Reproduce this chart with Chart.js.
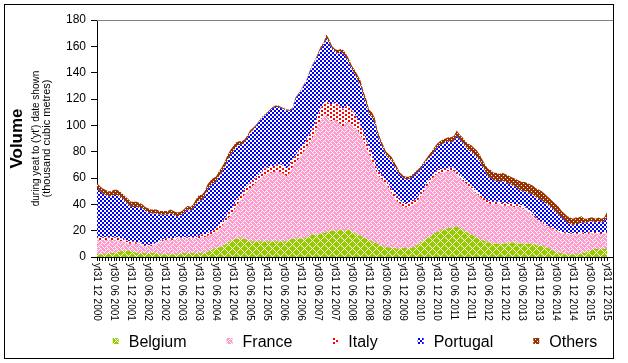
<!DOCTYPE html>
<html>
<head>
<meta charset="utf-8">
<title>Volume by country</title>
<script src="https://cdn.jsdelivr.net/npm/chart.js@4.4.1/dist/chart.umd.min.js"></script>
<style>
    html, body { margin: 0; padding: 0; background: #fff; }
    #wrap { width: 628px; height: 363px; }
</style>
</head>
<body>
<div id="wrap"><canvas id="volumeChart" width="628" height="363"></canvas></div>
<script>
        const FONT = "'Liberation Sans', Arial, sans-serif";

        // Tick labels, one every six months (Dec 2000 .. Dec 2015)
        const tickLabels = [
            'yt31 12 2000', 'yt30 06 2001', 'yt31 12 2001', 'yt30 06 2002', 'yt31 12 2002',
            'yt30 06 2003', 'yt31 12 2003', 'yt30 06 2004', 'yt31 12 2004', 'yt30 06 2005',
            'yt31 12 2005', 'yt30 06 2006', 'yt31 12 2006', 'yt30 06 2007', 'yt31 12 2007',
            'yt30 06 2008', 'yt31 12 2008', 'yt30 06 2009', 'yt31 12 2009', 'yt30 06 2010',
            'yt31 12 2010', 'yt30 06 2011', 'yt31 12 2011', 'yt30 06 2012', 'yt31 12 2012',
            'yt30 06 2013', 'yt31 12 2013', 'yt30 06 2014', 'yt31 12 2014', 'yt30 06 2015',
            'yt31 12 2015'
        ];

        // Monthly categories Dec 2000 .. Dec 2015
        const months = [];
        for (let i = 0; i <= 180; i++) {
            const m = (11 + i) % 12 + 1;
            const y = 2000 + Math.floor((11 + i) / 12);
            months.push((m < 10 ? '0' : '') + m + ' ' + y);
        }

        // Series values (thousand cubic metres), first value = Dec 2000, then Jan..Dec per year
        const belgium = [2,
            2,2,2,3,3,3,4,4,5,5,5,4,
            4,3,3,3,3,3,3,3,3,2,2,2,
            2,2,2,2,2,3,3,3,3,3,3,3,
            3,3,4,5,6,7,7,8,9,11,12,13,
            14,14,14,14,13,12,12,12,12,12,12,12,
            12,12,12,12,12,12,12,13,14,14,14,14,
            14,15,16,17,17,17,18,18,19,20,20,20,
            20,21,20,20,21,19,18,17,16,15,14,13,
            12,11,10,9,8,8,7,7,7,6,6,7,
            7,6,7,8,9,11,12,14,15,16,18,19,
            20,21,21,22,22,23,23,22,21,20,18,17,
            16,15,14,13,12,11,11,10,10,10,10,10,
            11,11,11,11,10,10,10,10,10,10,9,9,
            9,8,7,6,5,4,3,3,2,2,2,2,
            2,2,3,3,4,5,6,6,6,6,6,7];

        const france = [11,
            11,11,11,10,10,10,9,8,7,6,5,6,
            6,7,7,6,5,5,5,6,7,9,10,11,
            11,11,11,12,12,11,11,11,11,11,11,11,
            12,12,12,12,12,12,14,15,17,17,19,21,
            24,27,30,33,37,40,42,44,46,48,50,51,
            52,52,53,53,52,51,49,51,54,57,60,63,
            66,68,70,73,78,83,86,89,89,84,83,84,
            83,79,79,83,81,81,80,79,76,73,69,65,
            61,57,52,51,50,47,45,41,38,36,34,31,
            31,32,32,32,33,34,36,38,40,42,43,44,
            44,43,44,43,44,42,39,38,37,36,36,35,
            34,33,32,31,30,30,29,30,30,30,29,29,
            28,28,27,27,28,27,26,25,23,21,20,18,
            17,16,16,16,16,16,16,15,16,15,15,15,
            15,15,15,14,13,13,12,12,12,11,12,11];

        const italy = [2,
            2,2,2,2,2,2,2,2,2,2,2,2,
            2,1,1,1,1,1,1,1,1,1,1,1,
            1,1,1,1,1,1,1,1,1,1,1,2,
            2,2,2,2,2,3,3,3,3,4,4,4,
            4,4,4,4,4,4,4,4,4,4,5,5,
            5,5,5,5,6,6,6,6,6,6,6,6,
            6,6,7,7,7,8,9,10,11,12,13,13,
            13,14,13,12,12,11,10,9,8,7,6,5,
            5,4,4,4,3,3,3,3,3,3,3,3,
            3,3,3,3,3,3,3,3,3,3,3,3,
            3,2,2,2,2,2,2,2,2,2,2,2,
            2,2,2,2,2,2,2,2,2,2,2,2,
            2,2,2,2,2,2,2,2,2,2,1,1,
            1,1,1,1,1,1,1,1,1,1,1,1,
            1,1,1,1,1,1,1,1,1,1,1,1];

        const portugal = [37,
            35,33,32,31,31,32,32,32,30,29,28,26,
            26,27,26,27,26,25,24,23,22,20,19,18,
            18,19,18,16,16,17,19,21,20,22,25,27,
            26,29,33,35,36,35,37,38,39,41,42,42,
            41,40,37,36,36,38,38,39,40,41,40,41,
            42,44,44,44,43,43,44,41,38,43,43,43,
            44,45,47,48,47,45,45,44,47,46,42,39,
            38,42,42,36,33,31,31,29,30,27,27,25,
            28,30,26,23,21,19,20,22,21,20,19,19,
            18,18,18,19,19,18,18,17,17,16,16,17,
            18,20,20,21,19,21,28,27,27,26,25,26,
            26,26,25,23,21,18,18,16,16,15,17,16,
            15,14,14,13,11,11,12,12,13,14,15,16,
            16,16,16,15,14,13,12,11,9,8,7,6,
            7,7,7,8,8,8,8,7,8,8,8,11];

        const others = [4,
            4,4,4,4,4,4,4,4,4,4,4,4,
            4,4,4,3,3,3,3,3,3,3,3,3,
            3,3,3,3,3,3,3,3,3,3,4,4,
            4,4,4,4,4,4,4,4,4,4,4,4,
            4,3,3,2,2,2,2,1,1,1,1,1,
            1,1,1,1,1,1,1,1,1,1,1,1,
            1,1,1,1,1,2,2,2,3,3,2,2,
            3,2,3,3,3,3,3,4,4,4,4,4,
            4,4,4,3,3,3,3,3,3,3,2,2,
            2,2,2,2,2,2,2,2,2,3,3,3,
            3,3,3,3,4,4,4,4,4,4,5,5,
            5,5,5,5,5,6,6,6,6,6,6,6,
            6,6,6,6,7,7,7,7,7,7,7,7,
            7,7,6,6,6,6,6,5,5,5,5,5,
            5,5,5,3,3,3,3,3,3,3,3,4];

        const seriesNames = ['Belgium', 'France', 'Italy', 'Portugal', 'Others'];
        const seriesData = [belgium, france, italy, portugal, others];

        const canvas = document.getElementById('volumeChart');
        const mainCtx = canvas.getContext('2d');

        // Build a repeating fill pattern from a small bitmap
        function makePattern(w, h, isFg, fg, bg) {
            const c = document.createElement('canvas');
            c.width = w; c.height = h;
            const g = c.getContext('2d');
            g.fillStyle = bg;
            g.fillRect(0, 0, w, h);
            g.fillStyle = fg;
            for (let y = 0; y < h; y++) {
                for (let x = 0; x < w; x++) {
                    if (isFg(x, y)) g.fillRect(x, y, 1, 1);
                }
            }
            return mainCtx.createPattern(c, 'repeat');
        }

        const weave = [0x88, 0x54, 0x22, 0x45, 0x88, 0x14, 0x22, 0x51];

        const patterns = [
            // Belgium: green with white diagonal lattice
            makePattern(8, 8, (x, y) => (x + y) % 8 === 0 || (x - y + 8) % 8 === 0, '#ffffff', '#99cc00'),
            // France: pink weave
            makePattern(8, 8, (x, y) => (weave[y] >> (7 - x)) & 1, '#ffffff', '#ff99cc'),
            // Italy: red confetti on white
            makePattern(6, 4, (x, y) => (x < 2 && y < 2) || (x >= 3 && x < 5 && y >= 2), '#ff0000', '#ffffff'),
            // Portugal: blue checkerboard
            makePattern(4, 4, (x, y) => ((x >> 1) + (y >> 1)) % 2 === 0, '#0000ff', '#ffffff'),
            // Others: brown brick
            makePattern(8, 4, (x, y) => (y === 1 && (x === 1 || x === 5)) || (y === 3 && (x === 3 || x === 7)),
                '#ffffff', '#993300')
        ];

        // Frame, rotated tick labels, axis title and legend
        const decorations = {
            id: 'decorations',
            beforeDraw(chart) {
                const ctx = chart.ctx;
                ctx.save();
                ctx.fillStyle = '#ffffff';
                ctx.fillRect(0, 0, chart.width, chart.height);
                ctx.restore();
            },
            afterDraw(chart) {
                const ctx = chart.ctx;
                const area = chart.chartArea;
                const xScale = chart.scales.x;
                ctx.save();

                // outer frame
                ctx.strokeStyle = '#000000';
                ctx.lineWidth = 1;
                ctx.strokeRect(4.5, 4.5, 609, 354);

                // plot area top edge and axis extension
                ctx.strokeStyle = '#808080';
                ctx.beginPath();
                ctx.moveTo(area.left, area.top + 0.5);
                ctx.lineTo(613, area.top + 0.5);
                ctx.stroke();
                ctx.strokeStyle = '#000000';
                ctx.beginPath();
                ctx.moveTo(area.right, area.bottom + 0.5);
                ctx.lineTo(613, area.bottom + 0.5);
                ctx.stroke();

                // x tick labels, reading top to bottom
                ctx.fillStyle = '#000000';
                ctx.font = '10px ' + FONT;
                ctx.textAlign = 'left';
                ctx.textBaseline = 'middle';
                tickLabels.forEach((t, k) => {
                    const px = xScale.getPixelForTick(k * 6);
                    ctx.save();
                    ctx.translate(px, area.bottom + 6);
                    ctx.rotate(Math.PI / 2);
                    ctx.fillText(t, 0, 0);
                    ctx.restore();
                });

                // y axis title
                const midY = (area.top + area.bottom) / 2;
                const titleLines = [
                    { text: 'Volume', font: 'bold 17px ' + FONT, x: 17 },
                    { text: "during yeat to ('yt') date shown", font: '10px ' + FONT, x: 36 },
                    { text: '(thousand cubic metres)', font: '11px ' + FONT, x: 47 }
                ];
                ctx.textAlign = 'center';
                titleLines.forEach(l => {
                    ctx.save();
                    ctx.font = l.font;
                    ctx.translate(l.x, midY);
                    ctx.rotate(-Math.PI / 2);
                    ctx.fillText(l.text, 0, 0);
                    ctx.restore();
                });

                // legend
                ctx.font = '16px ' + FONT;
                ctx.textAlign = 'left';
                const box = 6, gap = 10, spacing = 40;
                const widths = seriesNames.map(n => box + gap + ctx.measureText(n).width);
                const total = widths.reduce((a, b) => a + b, 0) + spacing * (widths.length - 1);
                let lx = 355 - total / 2;
                const ly = 343;
                seriesNames.forEach((n, i) => {
                    ctx.fillStyle = patterns[i];
                    ctx.fillRect(lx, ly - 5, box, box);
                    ctx.fillStyle = '#000000';
                    ctx.fillText(n, lx + box + gap, ly);
                    lx += widths[i] + spacing;
                });

                ctx.restore();
            }
        };

        new Chart(mainCtx, {
            type: 'line',
            data: {
                labels: months,
                datasets: seriesNames.map((name, i) => ({
                    label: name,
                    data: seriesData[i],
                    backgroundColor: patterns[i],
                    borderColor: 'rgba(0,0,0,0)',
                    borderWidth: 0,
                    pointRadius: 0,
                    tension: 0,
                    fill: i === 0 ? 'origin' : '-1'
                }))
            },
            options: {
                responsive: false,
                animation: false,
                layout: { padding: { top: 20, right: 21, bottom: 0, left: 0 } },
                plugins: {
                    legend: { display: false },
                    tooltip: { enabled: false }
                },
                scales: {
                    x: {
                        offset: false,
                        grid: { drawOnChartArea: false, drawTicks: true, tickLength: 4, color: '#000000', offset: false },
                        border: { color: '#000000' },
                        ticks: { autoSkip: false, maxRotation: 0, callback: () => '' },
                        afterFit: s => { s.height = 106; }
                    },
                    y: {
                        stacked: true,
                        min: 0,
                        max: 180,
                        grid: { drawOnChartArea: false, drawTicks: true, tickLength: 6, color: '#000000' },
                        border: { color: '#000000' },
                        ticks: { stepSize: 20, padding: 5, color: '#000000', font: { family: FONT, size: 12 } },
                        afterFit: s => { s.width = 97; }
                    }
                }
            },
            plugins: [decorations]
        });
</script>
</body>
</html>
